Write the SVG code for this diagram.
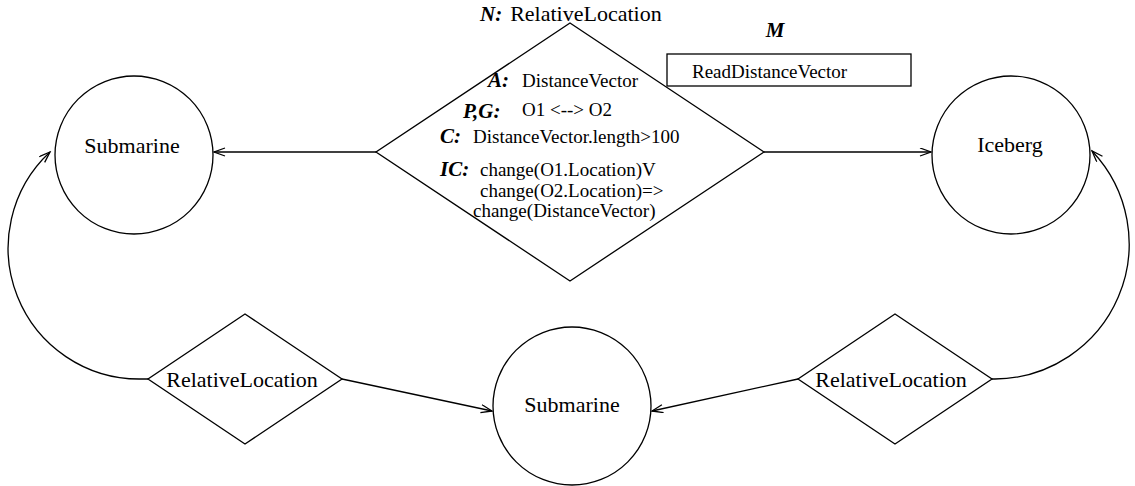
<svg xmlns="http://www.w3.org/2000/svg" width="1135" height="486" viewBox="0 0 1135 486">
<style>
.s{fill:none;stroke:#000;stroke-width:1.3}
.n{fill:#fff;stroke:#000;stroke-width:1.3}
text{font-family:"Liberation Serif","Times New Roman",serif;fill:#000}
.t22{font-size:22px}
.t19{font-size:19px}
.b{font-weight:bold;font-style:italic;font-size:21px}
</style>
<defs>
<marker id="ar" markerUnits="userSpaceOnUse" markerWidth="14" markerHeight="10" refX="12" refY="4.5" orient="auto">
<path d="M1,0.5 L12,4.5 L1,8.5" fill="none" stroke="#000" stroke-width="1.3"/>
</marker>
</defs>
<g id="connectors">
<line class="s" x1="376" y1="152" x2="214" y2="152" marker-end="url(#ar)"/>
<line class="s" x1="764" y1="152" x2="931" y2="152" marker-end="url(#ar)"/>
<line class="s" x1="342" y1="379" x2="492" y2="411" marker-end="url(#ar)"/>
<line class="s" x1="798" y1="379" x2="652" y2="411" marker-end="url(#ar)"/>
<path class="s" d="M148,379 L140,379 A131,131 0 0,1 50,152" marker-end="url(#ar)"/>
<path class="s" d="M992,379 L995,379 A135,135 0 0,0 1092,151" marker-end="url(#ar)"/>
</g>
<g id="sub1">
<circle class="n" cx="134" cy="155" r="79"/>
<text class="t22" x="132" y="153" text-anchor="middle">Submarine</text>
</g>
<g id="iceberg">
<circle class="n" cx="1011" cy="155" r="79"/>
<text class="t22" x="1010" y="152" text-anchor="middle">Iceberg</text>
</g>
<g id="sub2">
<circle class="n" cx="572" cy="406" r="79"/>
<text class="t22" x="572" y="412" text-anchor="middle">Submarine</text>
</g>
<g id="rel-main">
<text x="480" y="21"><tspan class="b">N:</tspan><tspan class="t22" dx="8">RelativeLocation</tspan></text>
<polygon class="n" points="570,23 764,152 570,281 376,152"/>
<text class="b" x="488" y="87">A:</text>
<text class="t19" x="522" y="87">DistanceVector</text>
<text class="b" x="463" y="118">P,G:</text>
<text class="t19" x="522" y="116">O1 &lt;--&gt; O2</text>
<text class="b" x="440" y="143">C:</text>
<text class="t19" x="473" y="143">DistanceVector.length&gt;100</text>
<text class="b" x="440" y="176">IC:</text>
<text class="t19" x="480" y="176">change(O1.Location)V</text>
<text class="t19" x="480" y="197">change(O2.Location)=&gt;</text>
<text class="t19" x="473" y="217">change(DistanceVector)</text>
</g>
<g id="method">
<text class="b" x="775" y="37" text-anchor="middle">M</text>
<rect class="n" x="667" y="54" width="244" height="32"/>
<text class="t19" x="692" y="78">ReadDistanceVector</text>
</g>
<g id="rel-left">
<polygon class="n" points="245,314 342,379 245,444 148,379"/>
<text class="t22" x="242" y="387" text-anchor="middle">RelativeLocation</text>
</g>
<g id="rel-right">
<polygon class="n" points="895,314 992,379 895,444 798,379"/>
<text class="t22" x="891" y="387" text-anchor="middle">RelativeLocation</text>
</g>
</svg>
